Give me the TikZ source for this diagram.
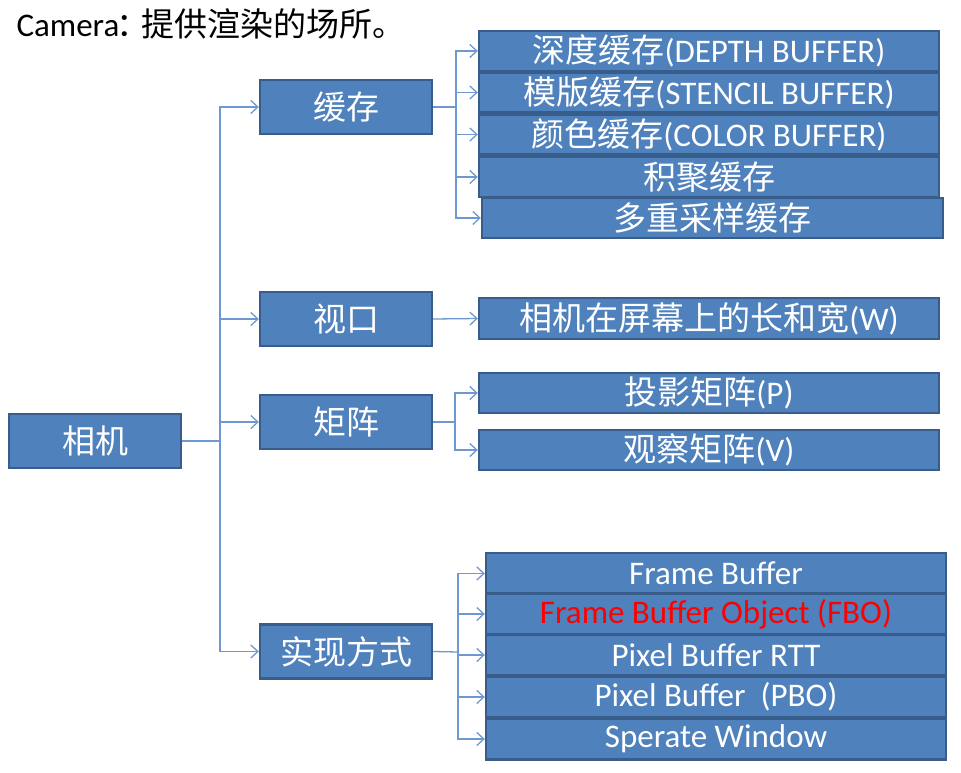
\documentclass[tikz,border=0pt]{standalone}
\usepackage{fontspec}
\setmainfont{Carlito}
\newfontfamily\cjk{Noto Sans CJK SC}
\usepackage{tikz}
\usetikzlibrary{arrows.meta}
\definecolor{boxfill}{HTML}{4F81BD}
\definecolor{boxline}{HTML}{385D8A}
\definecolor{linkblue}{HTML}{6F98D0}
\newcommand{\zh}[1]{{\cjk #1}}

\begin{document}
\begin{tikzpicture}[x=1pt,y=-1pt,
  box/.style={draw=boxline,fill=boxfill,line width=2.4pt,text=white,inner sep=0pt,
    minimum width=172pt,minimum height=54pt,font=\fontsize{33}{33}\selectfont},
  wide/.style={box,minimum width=460pt,minimum height=40pt,font=\fontsize{33}{33}\selectfont},
  link/.style={draw=linkblue,line width=1.3pt},
  arr/.style={link,-{Straight Barb[length=7pt,width=13pt,line width=1.3pt]}}]
  \useasboundingbox (0,0) rectangle (961,773);
  \node[anchor=base west,font=\fontsize{33}{33}\selectfont] (title) at (13,37){Camera\kern-3pt\zh{：\kern-8pt 提供渲染的场所。}};
  % left column
  \node[box] (cam) at (95,441){\zh{相机}};
  \node[box] (cache) at (346,107){\zh{缓存}};
  \node[box] (view) at (346,319){\zh{视口}};
  \node[box] (mat) at (346,422){\zh{矩阵}};
  \node[box] (impl) at (346,651.5){\zh{实现方式}};
  % buffers
  \node[wide] (depth) at (709,51){\zh{深度缓存}(DEPTH BUFFER)};
  \node[wide] (stencil) at (709,92.5){\zh{模版缓存}(STENCIL BUFFER)};
  \node[wide] (color) at (709,134.5){\zh{颜色缓存}(COLOR BUFFER)};
  \node[wide] (accum) at (709,177){\zh{积聚缓存}};
  \node[wide,minimum width=461pt] (multi) at (712.5,218){\zh{多重采样缓存}};
  % viewport and matrices
  \node[wide,minimum height=41pt] (size) at (709,318.5){\zh{相机在屏幕上的长和宽}(W)};
  \node[wide] (proj) at (709,393){\zh{投影矩阵}(P)};
  \node[wide] (look) at (709,450){\zh{观察矩阵}(V)};
  % implementations
  \node[wide,minimum height=41pt] (fb) at (716,573.5){Frame Buffer};
  \node[wide,minimum height=41pt,text=red] (fbo) at (716,614){Frame Buffer Object (FBO)};
  \node[wide,minimum height=41pt] (rtt) at (716,655){Pixel Buffer RTT};
  \node[wide,minimum height=41pt] (pbo) at (716,697){Pixel Buffer\ \ (PBO)};
  \node[wide,minimum height=41pt] (win) at (716,739){Sperate Window};
  % connectors
  \coordinate (trunk) at (220,441);
  \draw[link] (cam.east) -- (trunk);
  \foreach \n in {cache,view,mat,impl} \draw[arr] (trunk) |- (\n.west);
  \coordinate (b1) at (456,107);
  \draw[link] (cache.east) -- (b1);
  \foreach \n in {depth,stencil,color,accum,multi} \draw[arr] (b1) |- (\n.west);
  \draw[arr] (view.east) -- (size.west);
  \coordinate (b2) at (455,422);
  \draw[link] (mat.east) -- (b2);
  \foreach \n in {proj,look} \draw[arr] (b2) |- (\n.west);
  \coordinate (b3) at (458,652);
  \draw[link] (impl.east) -- (b3);
  \foreach \n in {fb,fbo,rtt,pbo,win} \draw[arr] (b3) |- (\n.west);
\end{tikzpicture}
\end{document}
